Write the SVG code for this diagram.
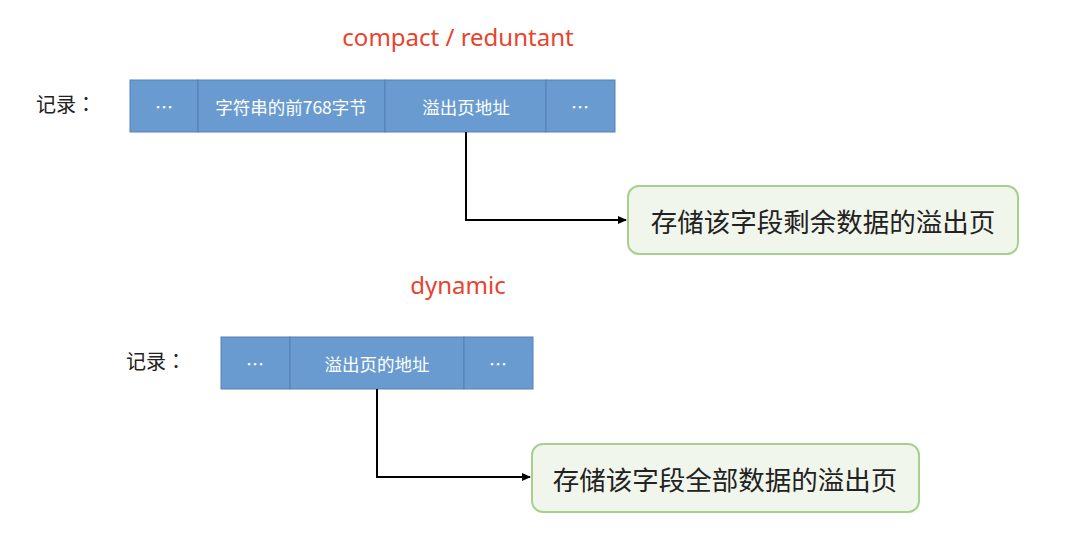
<svg xmlns="http://www.w3.org/2000/svg" width="1080" height="551" viewBox="0 0 1080 551">
<defs>
<style>
.cell{fill:#6a9bd0;stroke:#5580b5;stroke-width:1}
.ct{fill:#ffffff;font-family:"Noto Sans CJK SC","Noto Sans",sans-serif;font-size:17.5px;text-anchor:middle;dominant-baseline:central}
.dots{fill:#ffffff;font-family:"Noto Sans CJK JP",sans-serif;font-size:18px;text-anchor:middle;dominant-baseline:central}
.lab{fill:#222;font-family:"Noto Sans CJK JP",sans-serif;font-size:20px;dominant-baseline:central}
.title{fill:#e8432d;font-family:"Noto Sans","Liberation Sans",sans-serif;font-size:24px;text-anchor:middle;dominant-baseline:central}
.page{fill:#f1f6ec;stroke:#a8d08d;stroke-width:2}
.pt{fill:#222;font-family:"Noto Sans CJK SC",sans-serif;font-size:26.5px;text-anchor:middle;dominant-baseline:central}
.conn{fill:none;stroke:#000;stroke-width:2}
</style>
<marker id="arr" markerWidth="10" markerHeight="10" refX="8" refY="5" orient="auto" markerUnits="userSpaceOnUse">
<path d="M0,1 L9,5 L0,9 Z" fill="#000"/>
</marker>
</defs>
<rect width="1080" height="551" fill="#ffffff"/>
<text class="title" x="458" y="36">compact / reduntant</text>
<text class="title" x="458" y="284">dynamic</text>
<g id="record1">
<text class="lab" x="36" y="103">记录：</text>
<rect class="cell" x="130" y="80" width="68" height="52"/>
<rect class="cell" x="198" y="80" width="187" height="52"/>
<rect class="cell" x="385" y="80" width="161" height="52"/>
<rect class="cell" x="546" y="80" width="69" height="52"/>
<text class="dots" x="164" y="106">⋯</text>
<text class="ct" x="291" y="106">字符串的前768字节</text>
<text class="ct" x="466" y="106">溢出页地址</text>
<text class="dots" x="580" y="106">⋯</text>
</g>
<g id="page1">
<rect class="page" x="628" y="186" width="390" height="68" rx="11"/>
<text class="pt" x="823" y="220">存储该字段剩余数据的溢出页</text>
</g>
<g id="record2">
<text class="lab" x="126" y="360">记录：</text>
<rect class="cell" x="221" y="337" width="69" height="52"/>
<rect class="cell" x="290" y="337" width="174" height="52"/>
<rect class="cell" x="464" y="337" width="69" height="52"/>
<text class="dots" x="255" y="363">⋯</text>
<text class="ct" x="377" y="363">溢出页的地址</text>
<text class="dots" x="498" y="363">⋯</text>
</g>
<g id="page2">
<rect class="page" x="532" y="444" width="387" height="68" rx="11"/>
<text class="pt" x="725" y="478">存储该字段全部数据的溢出页</text>
</g>
<g id="connectors">
<path class="conn" d="M466,132 V220 H626" marker-end="url(#arr)"/>
<path class="conn" d="M377,389 V477 H530" marker-end="url(#arr)"/>
</g>
</svg>
